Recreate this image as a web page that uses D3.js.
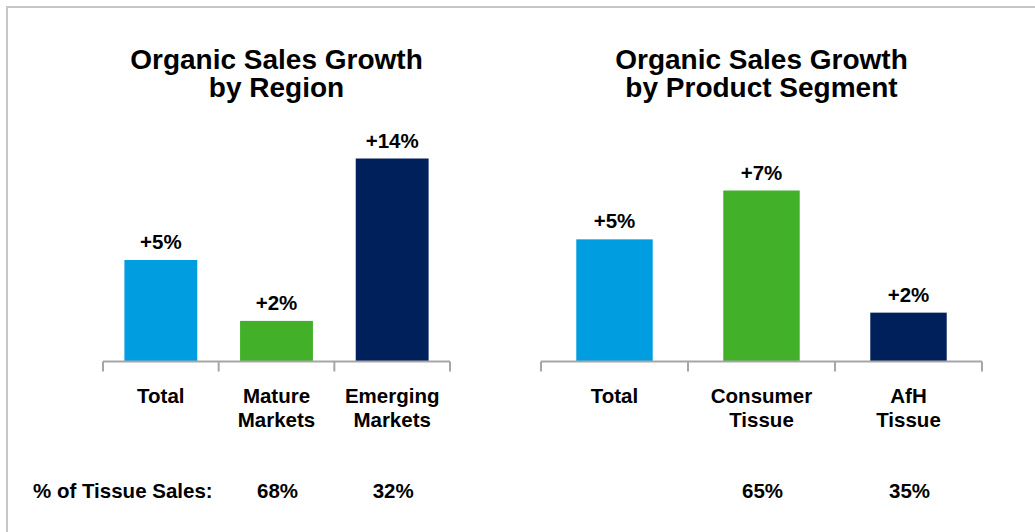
<!DOCTYPE html>
<html>
<head>
<meta charset="utf-8">
<script src="https://cdn.jsdelivr.net/npm/d3@7"></script>
<style>
  html, body { margin: 0; padding: 0; background: #fff; }
  svg { display: block; font-family: Arial, "Liberation Sans", Helvetica, sans-serif; font-weight: bold; }
</style>
</head>
<body>
<svg id="chart" width="1035" height="532"></svg>
<script>
// data
const regionCats = [['Total'], ['Mature', 'Markets'], ['Emerging', 'Markets']]
const regionGrowth = [5, 2, 14]
const regionShare = [null, 68, 32]

const segmentCats = [['Total'], ['Consumer', 'Tissue'], ['AfH', 'Tissue']]
const segmentGrowth = [5, 7, 2]
const segmentShare = [null, 65, 35]

const barColors = ['#009ee0', '#43b02a', '#00205b']

const svg = d3.select('#chart')

// frame (only top and left edges are visible)
svg.append('path')
    .attr('d', 'M7,532 V7 H1035')
    .attr('fill', 'none')
    .attr('stroke', '#c6c6c6')
    .attr('stroke-width', 2)

const baseY = 361.5

function panel({ title, cats, growth, share, x0, x1, yMax, yTop, barFrac }) {
    const keys = cats.map(c => c.join(' '))
    const x = d3.scaleBand().domain(keys).range([x0, x1]).padding(0)
    // the reference truncates tall bars, so clamp to the top of the plot
    const y = d3.scaleLinear().domain([0, yMax]).range([baseY, yTop]).clamp(true)

    const g = svg.append('g')
    const mid = (x0 + x1) / 2

    // title
    const t = g.append('text')
        .attr('text-anchor', 'middle')
        .attr('font-size', 28)
        .attr('fill', '#000')
    title.forEach((line, i) => {
        t.append('tspan').attr('x', mid).attr('y', 68.5 + i * 28.5).text(line)
    })

    const bw = x.bandwidth() * barFrac

    // bars
    g.selectAll('rect')
        .data(growth)
        .join('rect')
        .attr('x', (d, i) => x(keys[i]) + (x.bandwidth() - bw) / 2)
        .attr('width', bw)
        .attr('y', d => y(d))
        .attr('height', d => baseY - y(d))
        .attr('fill', (d, i) => barColors[i])

    // value labels
    g.selectAll('.val')
        .data(growth)
        .join('text')
        .classed('val', true)
        .attr('x', (d, i) => x(keys[i]) + x.bandwidth() / 2)
        .attr('y', d => y(d) - 11)
        .attr('text-anchor', 'middle')
        .attr('font-size', 20.5)
        .text(d => `+${d}%`)

    // axis line and ticks at band edges
    const axis = g.append('g').attr('stroke', '#a6a6a6').attr('stroke-width', 2)
    axis.append('line')
        .attr('x1', x0).attr('x2', x1)
        .attr('y1', baseY).attr('y2', baseY)
    const edges = keys.map(k => x(k)).concat([x1])
    axis.selectAll('.tick')
        .data(edges)
        .join('line')
        .attr('x1', d => d).attr('x2', d => d)
        .attr('y1', baseY).attr('y2', baseY + 10)

    // category labels
    cats.forEach((lines, i) => {
        const ct = g.append('text')
            .attr('text-anchor', 'middle')
            .attr('font-size', 20.5)
        lines.forEach((line, j) => {
            ct.append('tspan')
                .attr('x', x(keys[i]) + x.bandwidth() / 2)
                .attr('y', 403 + j * 23.5)
                .text(line)
        })
    })

    // share of tissue sales
    g.selectAll('.share')
        .data(share)
        .join('text')
        .classed('share', true)
        .attr('x', (d, i) => x(keys[i]) + x.bandwidth() / 2 + 1)
        .attr('y', 498)
        .attr('text-anchor', 'middle')
        .attr('font-size', 20.5)
        .text(d => d == null ? '' : `${d}%`)
}

panel({
    title: ['Organic Sales Growth', 'by Region'],
    cats: regionCats, growth: regionGrowth, share: regionShare,
    x0: 103, x1: 450, yMax: 10, yTop: 158.5, barFrac: 0.63
})

panel({
    title: ['Organic Sales Growth', 'by Product Segment'],
    cats: segmentCats, growth: segmentGrowth, share: segmentShare,
    x0: 541, x1: 982, yMax: 7, yTop: 190.5, barFrac: 0.52
})

svg.append('text')
    .attr('x', 33)
    .attr('y', 498)
    .attr('font-size', 20.5)
    .text('% of Tissue Sales:')
</script>
</body>
</html>
